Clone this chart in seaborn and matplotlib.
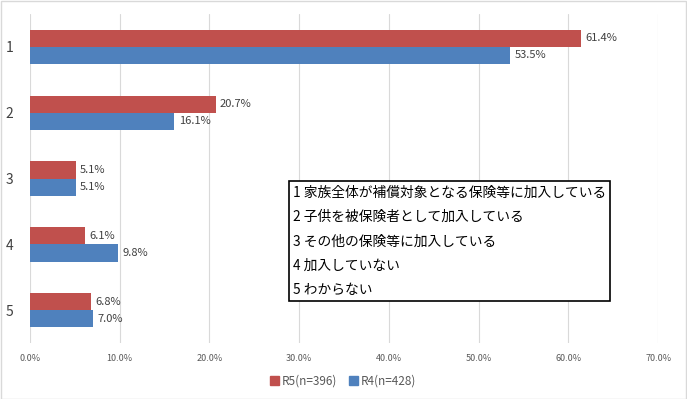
import numpy as np
import pandas as pd
import seaborn as sns
from matplotlib import pyplot as plt
from matplotlib.patches import Rectangle

categories = ['1', '2', '3', '4', '5']
series = ['R5(n=396)', 'R4(n=428)']
r5_values = [61.4, 20.7, 5.1, 6.1, 6.8]
r4_values = [53.5, 16.1, 5.1, 9.8, 7.0]
x_ticks = [0, 10, 20, 30, 40, 50, 60, 70]
note_lines = ['1 家族全体が補償対象となる保険等に加入している',
              '2 子供を被保険者として加入している',
              '3 その他の保険等に加入している',
              '4 加入していない',
              '5 わからない']

df = pd.DataFrame({
    'cat': categories * 2,
    'series': [series[0]] * 5 + [series[1]] * 5,
    'value': r5_values + r4_values,
})

sns.set_style('white')
plt.rcParams['font.family'] = ['Noto Sans CJK JP', 'DejaVu Sans']

fig = plt.figure(figsize=(6.87, 3.99), dpi=100)
ax = fig.add_axes([0.0437, 0.140, 0.9143, 0.825])

palette = {series[0]: '#C0504D', series[1]: '#4F81BD'}
sns.barplot(data=df, y='cat', x='value', hue='series', order=categories,
            hue_order=series, palette=palette, orient='h', width=0.52,
            saturation=1, linewidth=0, ax=ax, legend=False)

for cont in ax.containers:
    ax.bar_label(cont, labels=[f'{v:.1f}%' for v in cont.datavalues],
                 padding=3, fontsize=8, color='#404040')

ax.set_xlim(0, 70)
ax.set_xticks(x_ticks)
ax.set_xticklabels([f'{t:.1f}%' for t in x_ticks], fontsize=6.5, color='#595959')
ax.tick_params(axis='x', length=0, pad=8)
ax.tick_params(axis='y', length=0, pad=12, labelsize=10, labelcolor='#404040')
ax.set_xlabel('')
ax.set_ylabel('')
ax.grid(axis='x', color='#D9D9D9', linewidth=0.8)
ax.set_axisbelow(True)
for s in ax.spines.values():
    s.set_visible(False)

# legend
handles = [Rectangle((0, 0), 1, 1, color=palette[s]) for s in series]
fig.legend(handles, series, loc='center', bbox_to_anchor=(0.5, 0.045), ncol=2,
           frameon=False, fontsize=8.5, handlelength=0.7, handleheight=0.7,
           handletextpad=0.3, columnspacing=1.0, labelcolor='#595959')

# note box
fig.text(0.426, 0.535, '\n'.join(note_lines), fontsize=9.9, va='top', ha='left',
         linespacing=1.95, color='black',
         bbox=dict(boxstyle='square,pad=0.3', facecolor='white',
                   edgecolor='black', linewidth=1.2))

# outer border
fig.patches.append(Rectangle((0.001, 0.001), 0.997, 0.997, transform=fig.transFigure,
                             fill=False, edgecolor='#D9D9D9', linewidth=1))

fig.savefig('out.png', dpi=100)
